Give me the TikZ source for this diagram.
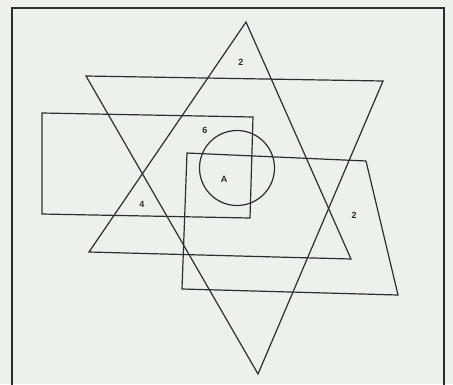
\documentclass[tikz,border=0pt]{standalone}
\usepackage{fontspec}
\setmainfont{Liberation Sans}
\usepackage{xcolor}
\usepackage{tikz}
\definecolor{paper}{HTML}{EEF0EC}
\definecolor{ink}{HTML}{2E2E2E}

\begin{document}
\begin{tikzpicture}[
  x=1pt, y=-1pt,
  frame/.style={draw=ink, line width=2.4pt},
  figline/.style={draw=ink, line width=1.2pt, line join=miter},
  num/.style={font=\small\bfseries, text=ink, inner sep=0pt}
]
  \useasboundingbox[fill=paper] (0,0) rectangle (453,384);
  \clip (0,0) rectangle (453,384);

  % outer frame (runs off the bottom of the page)
  \draw[frame] (12,400) -- (12,8) -- (444,8) -- (444,400);

  % triangles
  \coordinate (upA) at (246,22);
  \coordinate (upB) at (89,252);
  \coordinate (upC) at (351,259);
  \draw[figline] (upA) -- (upB) -- (upC) -- cycle;

  \coordinate (dnA) at (86,76);
  \coordinate (dnB) at (383,81);
  \coordinate (dnC) at (258,374);
  \draw[figline] (dnA) -- (dnB) -- (dnC) -- cycle;

  % rectangle
  \draw[figline] (42,113) -- (253,117) -- (250,218) -- (42,214) -- cycle;

  % trapezium
  \draw[figline] (187,153) -- (366,161) -- (398,295) -- (182,289) -- cycle;

  % circle
  \draw[figline] (237,168) circle[radius=37.5];

  % region labels
  \node[num] (ntop)   at (241,62)  {2};
  \node[num] (nsix)   at (205,130) {6};
  \node[num] (nA)     at (224,179) {A};
  \node[num] (nfour)  at (142,204) {4};
  \node[num] (nright) at (354,215) {2};
\end{tikzpicture}
\end{document}
